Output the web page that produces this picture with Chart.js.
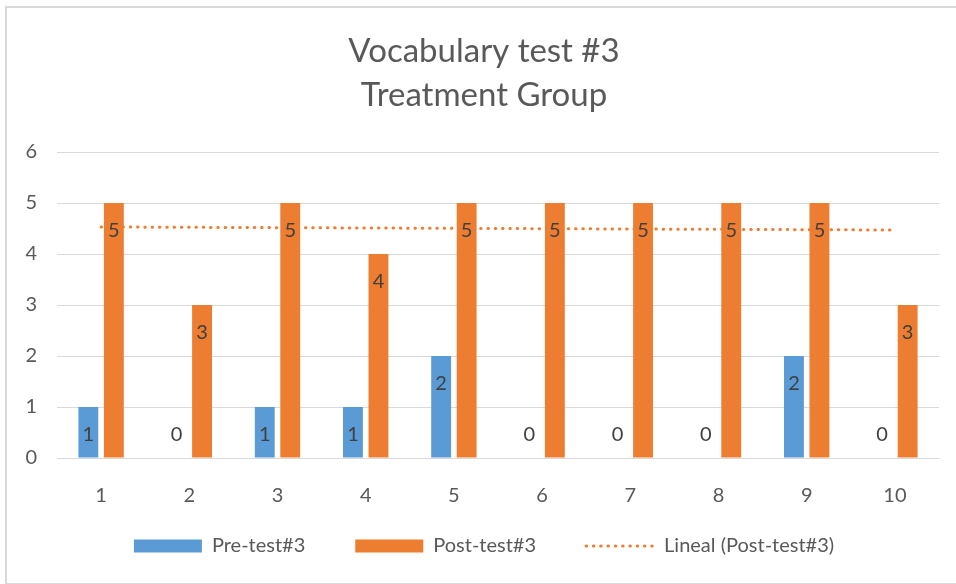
<!DOCTYPE html>
<html>
<head>
<meta charset="utf-8">
<script src="https://cdn.jsdelivr.net/npm/chart.js@4.4.1/dist/chart.umd.min.js"></script>
<style>
  html, body { margin: 0; padding: 0; background: #fff; overflow: hidden; }
  #frame {
    position: absolute; left: 5px; top: 6px; width: 970px; height: 575px;
    border: 2px solid #d9d9d9;
  }
  #chart { position: absolute; left: 0; top: 0; }
</style>
</head>
<body>
<div id="frame"></div>
<canvas id="chart" width="956" height="584"></canvas>
<script>
// Data
const students = ['1', '2', '3', '4', '5', '6', '7', '8', '9', '10'];
const preTest = [1, 0, 1, 1, 2, 0, 0, 0, 2, 0];
const postTest = [5, 3, 5, 4, 5, 5, 5, 5, 5, 3];
// Excel linear trendline of Post-test#3, endpoints
const trendStudents = ['1', '10'];
const trendValues = [4.53, 4.47];

const blue = '#5b9bd5';
const orange = '#ed7d31';
const font = 'Lato';
const trendDash = [0.5, 6.8];

// Value labels inside the end of each bar (Excel "inside end")
const barLabels = {
  id: 'barLabels',
  afterDatasetsDraw(chart) {
    const ctx = chart.ctx;
    const base = chart.scales.y.getPixelForValue(0);
    ctx.save();
    ctx.font = '20px ' + font;
    ctx.fillStyle = '#404040';
    ctx.textAlign = 'center';
    ctx.textBaseline = 'middle';
    [0, 1].forEach(i => {
      const meta = chart.getDatasetMeta(i);
      meta.data.forEach((bar, j) => {
        const y = Math.min(bar.y + 28, base - 23);
        ctx.fillText(String(chart.data.datasets[i].data[j]), bar.x, y);
      });
    });
    ctx.restore();
  }
};

// the wide item spacing also pads the legend vertically; pull it back up
const legendShift = {
  id: 'legendShift',
  afterLayout(chart) {
    chart.legend.top -= 24;
    chart.legend.bottom -= 24;
  }
};

const chart = new Chart(document.getElementById('chart'), {
  type: 'bar',
  data: {
    labels: students,
    datasets: [
      {
        label: 'Pre-test#3',
        data: preTest,
        backgroundColor: blue,
        pointStyle: 'rect',
        order: 1
      },
      {
        label: 'Post-test#3',
        data: postTest,
        backgroundColor: orange,
        pointStyle: 'rect',
        order: 2
      },
      {
        type: 'line',
        label: 'Lineal (Post-test#3)',
        data: trendStudents.map((s, i) => ({ x: s, y: trendValues[i] })),
        borderColor: orange,
        backgroundColor: orange,
        borderWidth: 3,
        borderDash: trendDash,
        borderCapStyle: 'round',
        pointRadius: 0,
        pointStyle: 'line',
        order: 0
      }
    ]
  },
  options: {
    responsive: false,
    animation: false,
    devicePixelRatio: 1,
    categoryPercentage: 0.578,
    barPercentage: 0.78,
    layout: { padding: { left: 12, right: 0, top: 0, bottom: -6 } },
    plugins: {
      title: {
        display: true,
        text: ['Vocabulary test #3', 'Treatment Group'],
        color: '#595959',
        font: { family: font, size: 33, weight: 'normal', lineHeight: 44.5 / 33 },
        padding: { top: 29, bottom: 34 }
      },
      legend: {
        position: 'bottom',
        labels: {
          usePointStyle: true,
          pointStyleWidth: 68,
          boxHeight: 13,
          padding: 50,
          color: '#595959',
          font: { family: font, size: 20 },
          sort: (a, b) => a.datasetIndex - b.datasetIndex,
          generateLabels(chart) {
            const items = Chart.defaults.plugins.legend.labels.generateLabels(chart);
            items.forEach(item => {
              if (item.datasetIndex === 2) {
                item.lineDash = trendDash;
                item.lineCap = 'round';
                item.lineWidth = 3;
                item.strokeStyle = orange;
              }
            });
            return items;
          }
        }
      },
      tooltip: { enabled: false }
    },
    scales: {
      x: {
        grid: { display: false },
        border: { display: false },
        ticks: { color: '#595959', font: { family: font, size: 20 }, padding: 18 },
        afterFit: (scale) => { scale.height = 52; }
      },
      y: {
        min: 0,
        max: 6,
        ticks: { stepSize: 1, color: '#595959', font: { family: font, size: 20 }, padding: 20 },
        grid: { color: '#d9d9d9', drawTicks: false },
        border: { display: false },
        afterFit: (scale) => { scale.width = 45; }
      },
      // empty right-hand margin of the plot area
      yRight: {
        position: 'right',
        min: 0,
        max: 1,
        ticks: { display: false },
        grid: { display: false },
        border: { display: false },
        afterFit: (scale) => { scale.width = 17; }
      }
    }
  },
  plugins: [barLabels, legendShift]
});
</script>
</body>
</html>
